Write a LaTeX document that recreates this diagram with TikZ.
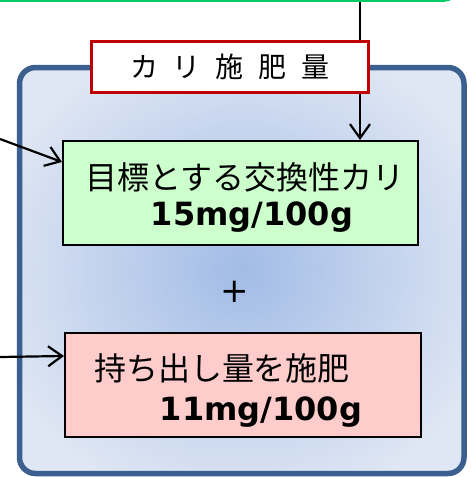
\documentclass[tikz,border=0pt]{standalone}
\usepackage{fontspec}
\setmainfont{DejaVu Sans}
\newfontfamily\jp{Noto Sans CJK JP}
\usetikzlibrary{arrows.meta}
\definecolor{topgreen}{RGB}{0,204,102}
\definecolor{lblred}{RGB}{192,0,0}
\definecolor{frameblue}{RGB}{59,95,142}
\definecolor{gin}{RGB}{162,188,230}
\definecolor{gout}{RGB}{224,231,244}
\definecolor{nodegreen}{RGB}{204,255,204}
\definecolor{nodepink}{RGB}{255,204,204}
\pgfdeclareradialshading{bgrad}{\pgfpoint{0bp}{0bp}}{color(0bp)=(gin); color(30bp)=(gout); color(50bp)=(gout)}
\tikzset{
  arr/.style={line width=2.2pt, -{Straight Barb[length=14pt,width=20pt,line width=2.2pt]}},
  boxnode/.style={draw=black, line width=2pt, inner sep=0pt},
  jptext/.style={inner sep=0pt, font=\jp\fontsize{32}{36}\selectfont},
  numtext/.style={inner sep=0pt, font=\bfseries\fontsize{32}{36}\selectfont},
}
\begin{document}
\begin{tikzpicture}[x=1pt,y=-1pt]
\useasboundingbox (0,0) rectangle (473,477);
\clip (0,0) rectangle (473,477);
\fill[white] (0,0) rectangle (473,477);
% top green box (partly visible)
\node (src) [draw=topgreen, line width=3.5pt, rounded corners=12pt, fill=white,
  minimum width=520pt, minimum height=60pt, anchor=south east] at (458,1.8) {};
% big frame
\node (frame) [draw=frameblue, line width=5.5pt, rounded corners=16pt, shade, shading=bgrad,
  minimum width=444.5pt, minimum height=406pt] at (241.75,270.5) {};
% green node
\node (goal) [boxnode, fill=nodegreen, minimum width=355pt, minimum height=104pt] at (240.5,193) {};
\node (g1) [jptext] at (245,177) {目標とする交換性カリ};
\node (g2) [numtext] at (252,217) {15mg/100g};
% plus
\node (plus) [inner sep=0pt, font=\fontsize{34}{34}\selectfont] at (235,292) {+};
% pink node
\node (cut) [boxnode, fill=nodepink, minimum width=356pt, minimum height=104pt] at (243,385) {};
\node (p1) [jptext] at (222,368) {持ち出し量を施肥};
\node (p2) [numtext] at (261,412) {11mg/100g};
% vertical arrow from top box
\coordinate (srcpt) at (360,2);
\draw[arr] (srcpt) -- (srcpt |- goal.north);
% label
\node (lbl) [draw=lblred, line width=2.2pt, fill=white, minimum width=277pt, minimum height=51pt,
  inner sep=0pt, font=\jp\fontsize{28}{28}\selectfont] at (230,67)
  {カ\hspace{15pt}リ\hspace{15pt}施\hspace{15pt}肥\hspace{15pt}量};
% incoming arrows from left
\coordinate (in1) at (0,139);
\coordinate (in2) at (0,357);
\draw[arr] (in1) -- ([yshift=-22pt]goal.north west);
\draw[arr] (in2) -- ([yshift=-24pt]cut.north west);
\end{tikzpicture}
\end{document}
